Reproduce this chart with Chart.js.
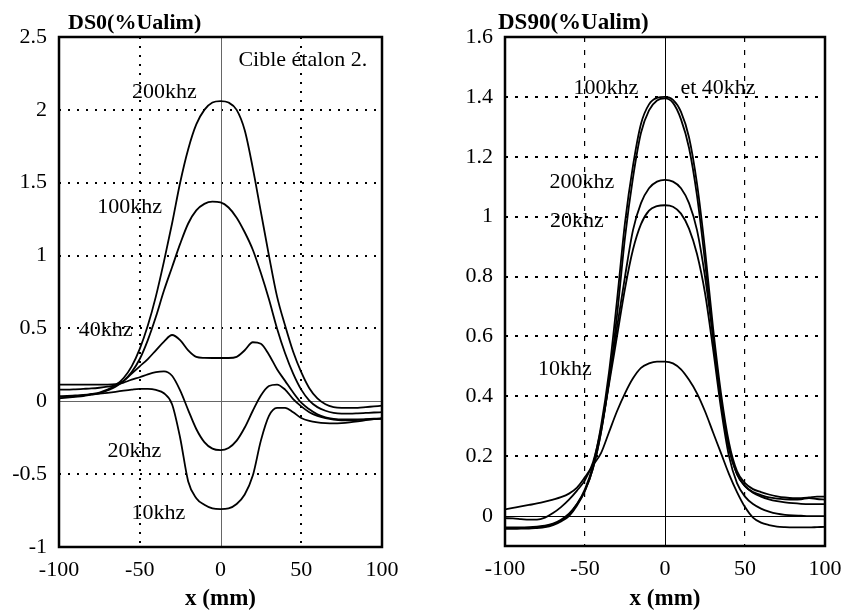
<!DOCTYPE html>
<html>
<head>
<meta charset="utf-8">
<script src="https://cdn.jsdelivr.net/npm/chart.js@4.4.0/dist/chart.umd.min.js"></script>
<style>
  html, body { margin: 0; padding: 0; background: #fff; width: 843px; height: 613px; overflow: hidden; }
  #left { position: absolute; left: 0; top: 0; }
  #right { position: absolute; left: 421px; top: 0; }
</style>
</head>
<body>
<canvas id="left" width="421" height="613"></canvas>
<canvas id="right" width="440" height="613"></canvas>
<script>
// x positions (mm), shared by every curve
const xmm = [-100, -95, -90, -85, -80, -75, -70, -65, -60, -55, -50, -45, -40, -35, -30, -25, -20, -15, -10, -5,
             0, 5, 10, 15, 20, 25, 30, 35, 40, 45, 50, 55, 60, 65, 70, 75, 80, 85, 90, 95, 100];

// DS0 (left panel)
const ds0_200 = [0.03, 0.03, 0.035, 0.04, 0.05, 0.06, 0.08, 0.11, 0.16, 0.24, 0.36, 0.52, 0.72, 0.96, 1.22, 1.5, 1.73, 1.9, 2.0, 2.05,
                 2.06, 2.05, 2.0, 1.86, 1.6, 1.3, 1.0, 0.72, 0.52, 0.34, 0.2, 0.09, 0.02, -0.02, -0.04, -0.045, -0.045, -0.045, -0.04, -0.035, -0.03];
const ds0_100 = [0.02, 0.025, 0.03, 0.035, 0.045, 0.055, 0.075, 0.1, 0.14, 0.2, 0.29, 0.42, 0.58, 0.76, 0.92, 1.08, 1.22, 1.31, 1.355, 1.37,
                 1.365, 1.33, 1.26, 1.16, 1.04, 0.88, 0.7, 0.5, 0.33, 0.19, 0.08, 0.005, -0.04, -0.065, -0.08, -0.085, -0.085, -0.083, -0.08, -0.077, -0.075];
const ds0_40 = [0.115, 0.115, 0.115, 0.115, 0.115, 0.115, 0.115, 0.118, 0.14, 0.19, 0.24, 0.29, 0.35, 0.41, 0.455, 0.42, 0.35, 0.305, 0.298, 0.297,
                0.297, 0.297, 0.305, 0.35, 0.405, 0.395, 0.32, 0.22, 0.14, 0.06, -0.01, -0.055, -0.09, -0.11, -0.12, -0.125, -0.125, -0.125, -0.123, -0.12, -0.118];
const ds0_20 = [0.08, 0.08, 0.082, 0.085, 0.088, 0.093, 0.1, 0.11, 0.128, 0.148, 0.165, 0.185, 0.2, 0.205, 0.175, 0.075, -0.06, -0.19, -0.28, -0.325,
                -0.335, -0.32, -0.27, -0.18, -0.065, 0.04, 0.105, 0.115, 0.08, 0.015, -0.035, -0.075, -0.1, -0.115, -0.125, -0.13, -0.13, -0.128, -0.125, -0.122, -0.12];
const ds0_10 = [0.035, 0.037, 0.04, 0.043, 0.047, 0.052, 0.058, 0.065, 0.073, 0.08, 0.085, 0.085, 0.078, 0.055, -0.02, -0.25, -0.55, -0.665, -0.71, -0.735,
                -0.74, -0.735, -0.705, -0.64, -0.51, -0.27, -0.1, -0.045, -0.045, -0.075, -0.115, -0.135, -0.145, -0.15, -0.152, -0.15, -0.145, -0.138, -0.13, -0.123, -0.117];

// DS90 (right panel)
const ds90_100 = [-0.04, -0.04, -0.04, -0.04, -0.038, -0.035, -0.028, -0.015, 0.005, 0.04, 0.09, 0.17, 0.3, 0.48, 0.72, 0.98, 1.17, 1.31, 1.375, 1.397,
                  1.4, 1.39, 1.35, 1.265, 1.11, 0.89, 0.63, 0.41, 0.245, 0.15, 0.11, 0.09, 0.08, 0.072, 0.066, 0.062, 0.06, 0.06, 0.062, 0.065, 0.065];
const ds90_40 = [-0.043, -0.043, -0.042, -0.042, -0.04, -0.037, -0.03, -0.018, 0.0, 0.035, 0.085, 0.16, 0.28, 0.45, 0.67, 0.93, 1.13, 1.28, 1.355, 1.388,
                 1.395, 1.38, 1.325, 1.23, 1.07, 0.85, 0.6, 0.38, 0.23, 0.14, 0.1, 0.08, 0.07, 0.062, 0.058, 0.056, 0.055, 0.056, 0.06, 0.057, 0.055];
const ds90_200 = [-0.038, -0.038, -0.038, -0.037, -0.035, -0.032, -0.025, -0.012, 0.008, 0.04, 0.085, 0.16, 0.28, 0.45, 0.63, 0.8, 0.955, 1.045, 1.095, 1.117,
                  1.123, 1.117, 1.095, 1.045, 0.955, 0.8, 0.6, 0.39, 0.225, 0.14, 0.1, 0.078, 0.065, 0.056, 0.05, 0.046, 0.043, 0.041, 0.04, 0.04, 0.04];
const ds90_20 = [-0.007, -0.008, -0.01, -0.012, -0.012, -0.005, 0.01, 0.03, 0.055, 0.085, 0.12, 0.18, 0.29, 0.44, 0.6, 0.76, 0.89, 0.975, 1.02, 1.035,
                 1.038, 1.033, 1.01, 0.96, 0.875, 0.745, 0.56, 0.36, 0.2, 0.11, 0.065, 0.04, 0.025, 0.015, 0.008, 0.004, 0.002, 0.001, 0.0, 0.0, 0.0];
const ds90_10 = [0.022, 0.027, 0.032, 0.037, 0.042, 0.048, 0.055, 0.063, 0.075, 0.095, 0.13, 0.17, 0.21, 0.28, 0.35, 0.41, 0.46, 0.495, 0.51, 0.516,
                 0.516, 0.51, 0.49, 0.455, 0.41, 0.35, 0.28, 0.21, 0.14, 0.08, 0.03, -0.005, -0.022, -0.03, -0.035, -0.037, -0.038, -0.038, -0.038, -0.037, -0.036];

// axis ticks
const xTicks = [-100, -50, 0, 50, 100];
const leftYTicks = [-1, -0.5, 0, 0.5, 1, 1.5, 2, 2.5];
const rightYTicks = [0, 0.2, 0.4, 0.6, 0.8, 1, 1.2, 1.4, 1.6];

// curve labels, in data units
const leftLabels = [
    { text: 'Cible étalon 2.', x: 51, y: 2.34 },
    { text: '200khz', x: -34.7, y: 2.12 },
    { text: '100khz', x: -56.3, y: 1.33 },
    { text: '40khz', x: -71.2, y: 0.49 },
    { text: '20khz', x: -53.3, y: -0.34 },
    { text: '10khz', x: -38.4, y: -0.77 }
];
const rightLabels = [
    { text: '100khz', x: -36.9, y: 1.43 },
    { text: 'et 40khz', x: 33.1, y: 1.43 },
    { text: '200khz', x: -51.9, y: 1.114 },
    { text: '20khz', x: -55, y: 0.984 },
    { text: '10khz', x: -62.5, y: 0.492 }
];

const FONT = '"Liberation Serif", "Times New Roman", serif';

function toPoints(ys) {
    return xmm.map((x, i) => ({ x: x, y: ys[i] }));
}

function curve(label, ys) {
    return {
        label: label,
        data: toPoints(ys),
        borderColor: '#000',
        borderWidth: 1.8,
        pointRadius: 0,
        fill: false,
        cubicInterpolationMode: 'monotone'
    };
}

// grid is dotted except at 0, where a solid zero line is drawn instead
function gridColor(ctx) {
    return ctx.tick && ctx.tick.value === 0 ? 'rgba(0,0,0,0)' : '#000';
}

// zero lines, frame, title and curve labels
const decorPlugin = {
    id: 'decor',
    beforeDatasetsDraw(chart, args, opts) {
        const { ctx, chartArea: a, scales: { x, y } } = chart;
        ctx.save();
        ctx.strokeStyle = opts.zeroColor;
        ctx.lineWidth = 1;
        const x0 = Math.round(x.getPixelForValue(0)) + 0.5;
        const y0 = Math.round(y.getPixelForValue(0)) + 0.5;
        ctx.beginPath();
        ctx.moveTo(x0, a.top); ctx.lineTo(x0, a.bottom);
        ctx.moveTo(a.left, y0); ctx.lineTo(a.right, y0);
        ctx.stroke();
        ctx.restore();
    },
    afterDatasetsDraw(chart, args, opts) {
        const { ctx, chartArea: a, scales: { x, y } } = chart;
        ctx.save();
        ctx.fillStyle = '#000';
        ctx.font = '22px ' + FONT;
        ctx.textAlign = 'center';
        ctx.textBaseline = 'middle';
        opts.labels.forEach(l => {
            ctx.fillText(l.text, x.getPixelForValue(l.x), y.getPixelForValue(l.y));
        });
        ctx.strokeStyle = '#000';
        ctx.lineWidth = 2.5;
        ctx.strokeRect(a.left, a.top, a.right - a.left, a.bottom - a.top);
        ctx.font = 'bold ' + opts.titleSize + 'px ' + FONT;
        ctx.textAlign = 'left';
        ctx.textBaseline = 'alphabetic';
        ctx.fillText(opts.title, a.left + opts.titleDx, 29);
        ctx.restore();
    }
};

function makeChart(id, datasets, yMin, yMax, yTicks, cfg) {
    return new Chart(document.getElementById(id), {
        type: 'line',
        data: { datasets: datasets },
        plugins: [decorPlugin],
        options: {
            responsive: false,
            animation: false,
            layout: { padding: { left: 0, top: 37, right: cfg.padRight, bottom: 0 } },
            plugins: {
                legend: { display: false },
                tooltip: { enabled: false },
                decor: { labels: cfg.labels, title: cfg.title, titleDx: cfg.titleDx, titleSize: cfg.titleSize, zeroColor: cfg.zeroColor }
            },
            scales: {
                x: {
                    type: 'linear',
                    min: -100, max: 100,
                    afterBuildTicks: s => { s.ticks = xTicks.map(v => ({ value: v })); },
                    afterFit: s => { s.height = cfg.xAxisHeight; },
                    ticks: { color: '#000', font: { family: FONT, size: 22 }, padding: 10, maxRotation: 0, callback: v => String(v) },
                    grid: { color: gridColor, lineWidth: cfg.vGridWidth, drawTicks: false },
                    border: { display: false, dash: cfg.vDash },
                    title: { display: true, text: 'x (mm)', color: '#000', font: { family: FONT, size: 23, weight: 'bold' }, padding: { top: 0, bottom: 0 } }
                },
                y: {
                    type: 'linear',
                    min: yMin, max: yMax,
                    afterBuildTicks: s => { s.ticks = yTicks.map(v => ({ value: v })); },
                    afterFit: s => { s.width = cfg.yAxisWidth; },
                    ticks: { color: '#000', font: { family: FONT, size: 22 }, padding: 12, callback: v => String(v) },
                    grid: { color: gridColor, lineWidth: 2, drawTicks: false },
                    border: { display: false, dash: cfg.hDash }
                }
            }
        }
    });
}

makeChart('left', [
    curve('200khz', ds0_200),
    curve('100khz', ds0_100),
    curve('40khz', ds0_40),
    curve('20khz', ds0_20),
    curve('10khz', ds0_10)
], -1, 2.5, leftYTicks, {
    padRight: 39, yAxisWidth: 59, xAxisHeight: 66,
    labels: leftLabels, title: 'DS0(%Ualim)', titleDx: 9, titleSize: 22, zeroColor: '#666',
    vGridWidth: 2, vDash: [2, 7], hDash: [2, 7]
});

makeChart('right', [
    curve('100khz', ds90_100),
    curve('40khz', ds90_40),
    curve('200khz', ds90_200),
    curve('20khz', ds90_20),
    curve('10khz', ds90_10)
], -0.1, 1.6, rightYTicks, {
    padRight: 36, yAxisWidth: 84, xAxisHeight: 67,
    labels: rightLabels, title: 'DS90(%Ualim)', titleDx: -7, titleSize: 23, zeroColor: '#000',
    vGridWidth: 1.2, vDash: [5, 8], hDash: [3, 7]
});
</script>
</body>
</html>
